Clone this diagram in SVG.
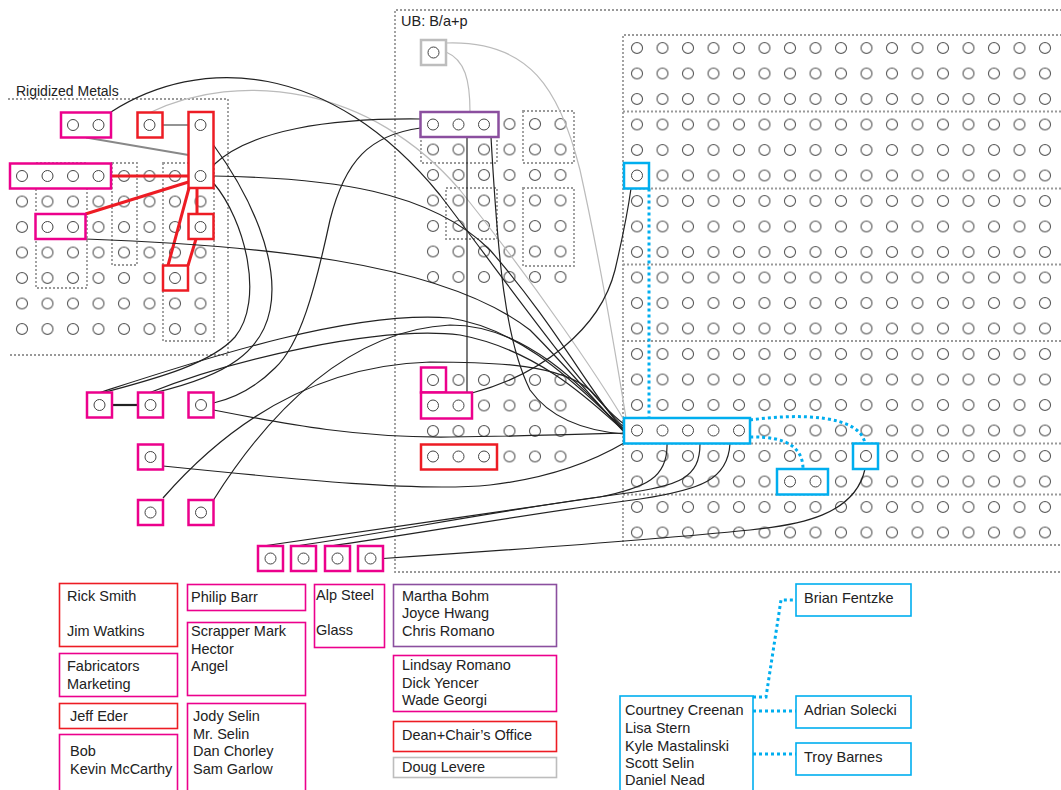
<svg xmlns="http://www.w3.org/2000/svg" width="1061" height="790" viewBox="0 0 1061 790">
<style>
.c{fill:#fff;stroke:#444;stroke-width:1}
.nb{fill:#fff;stroke-width:2.5}
.mg{stroke:#ec008c}.rd{stroke:#ed1c24}.pu{stroke:#8b4f9f}.bl{stroke:#00aeef}.gr{stroke:#bdbdbd}
.dot{fill:none;stroke:#999;stroke-width:1.8;stroke-dasharray:2 2}
.ln{fill:none;stroke:#222;stroke-width:1.2}
.lg{fill:none;stroke:#bbb;stroke-width:1.2}
.gl{fill:none;stroke:#888;stroke-width:1.8}
.rl{fill:none;stroke:#ed1c24;stroke-width:3}
.bd{fill:none;stroke:#00aeef;stroke-width:3;stroke-dasharray:3 3}
.t{font-family:"Liberation Sans",Arial,sans-serif;font-size:14.5px;fill:#222}
.lb{fill:#fff;stroke-width:1.6}
</style>
<defs>
<pattern id="dots" width="25.5" height="25.5" patternUnits="userSpaceOnUse"><circle cx="12.75" cy="12.75" r="5.5" fill="none" stroke="#444" stroke-width="1"/></pattern>
</defs>
<rect width="1061" height="790" fill="#fff"/>
<g id="regions">
<path class="dot" d="M8,99 H228 V355 H8"/>
<rect class="dot" x="36" y="163" width="51" height="125"/>
<rect class="dot" x="112" y="163" width="25" height="102"/>
<rect class="dot" x="163" y="163" width="51" height="178"/>
<path class="dot" d="M1070,10 H395 V572 H1070"/>
<rect class="dot" x="421" y="112" width="76" height="51"/>
<rect class="dot" x="523" y="111" width="51" height="52"/>
<rect class="dot" x="446" y="188" width="51" height="51"/>
<rect class="dot" x="523" y="188" width="51" height="78"/>
<path class="dot" d="M1070,35 H623 V545 H1070 M623,111.5 H1070 M623,188.5 H1070 M623,264.5 H1070 M623,341 H1070 M623,443.5 H1070 M623,494.5 H1070"/>
<text class="t" x="16" y="96" style="font-size:14px">Rigidized Metals</text>
<text class="t" x="401" y="26">UB: B/a+p</text>
</g>
<g id="grids">
<rect x="0" y="0" width="204" height="178.5" fill="url(#dots)" transform="translate(9.25,163.25)"/>
<rect x="0" y="0" width="153" height="178.5" fill="url(#dots)" transform="translate(420.25,111.25)"/>
<rect x="0" y="0" width="153" height="102" fill="url(#dots)" transform="translate(420.25,367.25)"/>
<rect x="0" y="0" width="433.5" height="510" fill="url(#dots)" transform="translate(624.25,35.25)"/>
</g>
<g id="connectors">
<path class="lg" d="M150,112.5 C240,70 370,85 460,190 C540,290 600,380 624,420"/>
<path class="lg" d="M446,43 C530,40 560,90 580,170 C600,260 615,350 626,418"/>
<path class="lg" d="M446,52 C465,60 470,80 470,112"/>
<path class="gl" d="M162.5,125 H188.5"/>
<path class="gl" d="M86,137.5 L188.5,155"/>
<path class="rl" d="M111,176 H188.5 M85.5,214 L188.5,182 M197,188 V214 M189,188 L168,265.5 M196,239 L188,265.5"/>
<path class="ln" d="M111,112 C200,55 330,60 440,195 C520,300 590,400 624,424"/>
<path class="ln" d="M213.5,176 C330,178 430,190 490,250 C560,330 600,410 624,427"/>
<path class="ln" d="M85.5,239 C250,245 440,260 530,330 C580,380 610,420 624,430"/>
<path class="ln" d="M420.5,119 C330,118 250,130 213.5,165"/>
<path class="ln" d="M420.5,128 C370,135 345,160 330,220 C315,290 300,345 275,368 C255,388 235,398 213.5,403"/>
<path class="ln" d="M213.5,183 C245,220 265,300 235,337 C210,365 150,380 104,392.5"/>
<path class="ln" d="M213.5,145 C250,195 280,260 270,310 C262,350 230,375 155,392.5"/>
<path class="ln" d="M100,392.5 C200,360 350,310 450,318 C530,330 590,400 624,429"/>
<path class="ln" d="M150,392.5 C230,360 380,325 460,335 C540,350 595,405 624,431"/>
<path class="ln" d="M163,498 C240,410 330,365 430,362 C500,362 560,365 590,390 C605,405 615,420 624,432"/>
<path class="ln" d="M213.5,500 C270,410 350,330 450,325 C530,325 590,395 624,432"/>
<path class="ln" d="M213.5,410 C290,425 360,438 450,437 C530,436 590,434 624,433"/>
<path class="ln" d="M163,466 C300,480 420,492 490,485 C550,478 595,460 624,443"/>
<path class="ln" d="M491,137 C498,260 505,340 530,390 C555,425 600,432 624,434"/>
<path class="ln" d="M467,137 V392.5"/>
<path class="ln" d="M472,393 C540,375 600,330 615,270 C622,240 628,210 631,188.5"/>
<path class="ln" d="M667,443.5 C668,478 645,488 600,497 C500,512 350,533 263,546"/>
<path class="ln" d="M700,443.5 C700,478 680,486 620,494 C500,510 380,534 296,546"/>
<path class="ln" d="M730,443.5 C728,480 700,490 640,499 C520,515 410,535 330,546"/>
<path class="ln" d="M865,469 C855,515 800,525 750,530 C650,540 480,552 383,558.5"/>
<path class="ln" style="stroke-width:2.2" d="M112,405 H138"/>
<path class="bd" d="M649,188.5 V418"/>
<path class="bd" d="M750,420 C800,413 860,415 865,443.5"/>
<path class="bd" d="M750,437 C790,436 803,450 803,469"/>
<path class="bd" d="M753,697 H766 L781,600 H796 M753,711 H796 M753,754 H796"/>
</g>
<g id="n_mag_top"><rect class="nb mg" x="61" y="112.5" width="50" height="25"/><circle class="c" cx="73" cy="125" r="5.5"/><circle class="c" cx="98.5" cy="125" r="5.5"/></g>
<g id="n_red_top"><rect class="nb rd" x="137.5" y="112.5" width="25" height="25"/><circle class="c" cx="149.5" cy="125" r="5.5"/></g>
<g id="n_red_tall"><rect class="nb rd" x="188.5" y="112" width="25" height="76"/><circle class="c" cx="200.5" cy="125" r="5.5"/><circle class="c" cx="200.5" cy="176" r="5.5"/></g>
<g id="n_mag_row"><rect class="nb mg" x="10" y="163.5" width="101" height="25"/><circle class="c" cx="22" cy="176" r="5.5"/><circle class="c" cx="47.5" cy="176" r="5.5"/><circle class="c" cx="73" cy="176" r="5.5"/><circle class="c" cx="98.5" cy="176" r="5.5"/></g>
<g id="n_mag_pair"><rect class="nb mg" x="35.5" y="214" width="50" height="25"/><circle class="c" cx="47.5" cy="227" r="5.5"/><circle class="c" cx="73" cy="227" r="5.5"/></g>
<g id="n_red_227"><rect class="nb rd" x="188.5" y="214" width="25" height="25"/><circle class="c" cx="200.5" cy="227" r="5.5"/></g>
<g id="n_red_278"><rect class="nb rd" x="163" y="265.5" width="25" height="25"/><circle class="c" cx="175" cy="278" r="5.5"/></g>
<g id="n_lb1"><rect class="nb mg" x="87" y="392.5" width="25" height="25"/><circle class="c" cx="99.5" cy="405" r="5.5"/></g>
<g id="n_lb2"><rect class="nb mg" x="138" y="392.5" width="25" height="25"/><circle class="c" cx="150.5" cy="405" r="5.5"/></g>
<g id="n_lb3"><rect class="nb mg" x="188.5" y="392.5" width="25" height="25"/><circle class="c" cx="201" cy="405" r="5.5"/></g>
<g id="n_lb4"><rect class="nb mg" x="138" y="444.5" width="25" height="25"/><circle class="c" cx="150.5" cy="457" r="5.5"/></g>
<g id="n_lb5"><rect class="nb mg" x="138" y="500" width="25" height="25"/><circle class="c" cx="150.5" cy="512.5" r="5.5"/></g>
<g id="n_lb6"><rect class="nb mg" x="188.5" y="500" width="25" height="25"/><circle class="c" cx="201" cy="512.5" r="5.5"/></g>
<g id="n_b1"><rect class="nb mg" x="258" y="546" width="25" height="25"/><circle class="c" cx="270.5" cy="558.5" r="5.5"/></g>
<g id="n_b2"><rect class="nb mg" x="291" y="546" width="25" height="25"/><circle class="c" cx="303.5" cy="558.5" r="5.5"/></g>
<g id="n_b3"><rect class="nb mg" x="325" y="546" width="25" height="25"/><circle class="c" cx="337.5" cy="558.5" r="5.5"/></g>
<g id="n_b4"><rect class="nb mg" x="358" y="546" width="25" height="25"/><circle class="c" cx="370.5" cy="558.5" r="5.5"/></g>
<g id="n_doug"><rect class="nb gr" x="421" y="40" width="25" height="25"/><circle class="c" cx="433.5" cy="52.5" r="5.5"/></g>
<g id="n_purple"><rect class="nb pu" x="420.5" y="112" width="78" height="25"/><circle class="c" cx="433" cy="124.5" r="5.5"/><circle class="c" cx="458.5" cy="124.5" r="5.5"/><circle class="c" cx="484" cy="124.5" r="5.5"/></g>
<g id="n_mm1"><rect class="nb mg" x="421" y="367.5" width="25" height="25"/><circle class="c" cx="433" cy="380" r="5.5"/></g>
<g id="n_mm2"><rect class="nb mg" x="421" y="392.5" width="51" height="26"/><circle class="c" cx="433" cy="405.5" r="5.5"/><circle class="c" cx="458.5" cy="405.5" r="5.5"/></g>
<g id="n_mred"><rect class="nb rd" x="421" y="444.5" width="76" height="25"/><circle class="c" cx="433" cy="456.5" r="5.5"/><circle class="c" cx="458.5" cy="456.5" r="5.5"/><circle class="c" cx="484" cy="456.5" r="5.5"/></g>
<g id="n_bl_small"><rect class="nb bl" x="624" y="163" width="25" height="25.5"/><circle class="c" cx="637" cy="175.5" r="5.5"/></g>
<g id="n_bl_big"><rect class="nb bl" x="624" y="418" width="126" height="25.5"/><circle class="c" cx="637" cy="430.5" r="5.5"/><circle class="c" cx="662.5" cy="430.5" r="5.5"/><circle class="c" cx="688" cy="430.5" r="5.5"/><circle class="c" cx="713.5" cy="430.5" r="5.5"/><circle class="c" cx="739" cy="430.5" r="5.5"/></g>
<g id="n_bl_pair"><rect class="nb bl" x="777" y="469" width="51" height="25.5"/><circle class="c" cx="790" cy="481.5" r="5.5"/><circle class="c" cx="815.5" cy="481.5" r="5.5"/></g>
<g id="n_bl_single"><rect class="nb bl" x="853" y="443.5" width="25" height="25.5"/><circle class="c" cx="866" cy="456" r="5.5"/></g>
<g id="legend_rick"><rect class="lb rd" x="59.5" y="583.5" width="118" height="63"/><text class="t" x="67" y="601">Rick Smith</text><text class="t" x="67" y="636">Jim Watkins</text></g>
<g id="legend_fab"><rect class="lb mg" x="59.5" y="653.5" width="118" height="43"/><text class="t" x="67" y="671">Fabricators</text><text class="t" x="67" y="689">Marketing</text></g>
<g id="legend_jeff"><rect class="lb rd" x="59.5" y="703.5" width="118" height="25"/><text class="t" x="70" y="721">Jeff Eder</text></g>
<g id="legend_bob"><rect class="lb mg" x="59.5" y="734.5" width="118" height="60"/><text class="t" x="70" y="756">Bob</text><text class="t" x="70" y="774">Kevin McCarthy</text></g>
<g id="legend_philip"><rect class="lb mg" x="187.5" y="584.5" width="118" height="26"/><text class="t" x="191" y="602">Philip Barr</text></g>
<g id="legend_scrapper"><rect class="lb mg" x="187.5" y="622.5" width="118" height="73"/><text class="t" x="191" y="636">Scrapper Mark</text><text class="t" x="191" y="654">Hector</text><text class="t" x="191" y="671">Angel</text></g>
<g id="legend_jody"><rect class="lb mg" x="187.5" y="703.5" width="118" height="90"/><text class="t" x="193" y="721">Jody Selin</text><text class="t" x="193" y="739">Mr. Selin</text><text class="t" x="193" y="756">Dan Chorley</text><text class="t" x="193" y="774">Sam Garlow</text></g>
<g id="legend_alp"><rect class="lb mg" x="314.5" y="584.5" width="70" height="63"/><text class="t" x="316" y="600">Alp Steel</text><text class="t" x="316" y="635">Glass</text></g>
<g id="legend_martha"><rect class="lb pu" x="393.5" y="584.5" width="163" height="62"/><text class="t" x="402" y="601">Martha Bohm</text><text class="t" x="402" y="618">Joyce Hwang</text><text class="t" x="402" y="636">Chris Romano</text></g>
<g id="legend_lindsay"><rect class="lb mg" x="393.5" y="655.5" width="163" height="56"/><text class="t" x="402" y="670">Lindsay Romano</text><text class="t" x="402" y="688">Dick Yencer</text><text class="t" x="402" y="705">Wade Georgi</text></g>
<g id="legend_dean"><rect class="lb rd" x="393.5" y="721.5" width="163" height="30"/><text class="t" x="402" y="740">Dean+Chair’s Office</text></g>
<g id="legend_doug"><rect class="lb gr" x="393.5" y="757.5" width="163" height="20"/><text class="t" x="402" y="772">Doug Levere</text></g>
<g id="legend_courtney"><rect class="lb bl" x="620" y="696" width="133" height="100"/><text class="t" x="625" y="715">Courtney Creenan</text><text class="t" x="625" y="733">Lisa Stern</text><text class="t" x="625" y="751">Kyle Mastalinski</text><text class="t" x="625" y="768">Scott Selin</text><text class="t" x="625" y="785">Daniel Nead</text></g>
<g id="legend_brian"><rect class="lb bl" x="796" y="584" width="115" height="32"/><text class="t" x="804" y="603">Brian Fentzke</text></g>
<g id="legend_adrian"><rect class="lb bl" x="796" y="696" width="115" height="32"/><text class="t" x="804" y="715">Adrian Solecki</text></g>
<g id="legend_troy"><rect class="lb bl" x="796" y="743" width="115" height="32"/><text class="t" x="804" y="762">Troy Barnes</text></g>
</svg>
